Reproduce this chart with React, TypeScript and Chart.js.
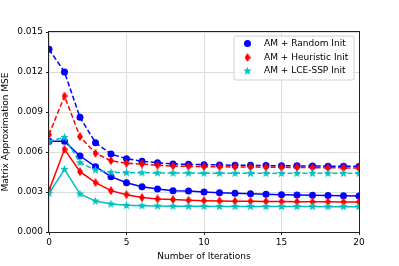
import React, { useEffect, useRef } from "react";
import { Chart, registerables } from "chart.js";

Chart.register(...registerables);

const iterations = Array.from({ length: 21 }, (_, i) => i);

const randomDashed = [0.0137, 0.0120, 0.0086, 0.0067, 0.00585, 0.0055, 0.0053, 0.0052, 0.0051, 0.00508, 0.00505, 0.00503, 0.00501, 0.005, 0.00498, 0.00497, 0.00496, 0.00495, 0.00494, 0.00493, 0.00492];
const randomSolid = [0.0068, 0.0068, 0.0057, 0.0049, 0.00415, 0.0037, 0.0034, 0.00322, 0.0031, 0.00307, 0.0030, 0.00295, 0.0029, 0.00287, 0.00284, 0.0028, 0.00278, 0.00276, 0.00274, 0.00272, 0.0027];
const heurDashed = [0.0073, 0.0102, 0.00715, 0.0059, 0.00535, 0.00515, 0.0051, 0.005, 0.00495, 0.00492, 0.0049, 0.00489, 0.00488, 0.00487, 0.00486, 0.00485, 0.00484, 0.00483, 0.00482, 0.00481, 0.0048];
const heurSolid = [0.0031, 0.0062, 0.00452, 0.0037, 0.0031, 0.0028, 0.00258, 0.00248, 0.00243, 0.00238, 0.00235, 0.00233, 0.00231, 0.0023, 0.00229, 0.00228, 0.00227, 0.00226, 0.00226, 0.00225, 0.00225];
const lceDashed = [0.0068, 0.0071, 0.0052, 0.00465, 0.00448, 0.00445, 0.00444, 0.00443, 0.00442, 0.00442, 0.00441, 0.00441, 0.0044, 0.0044, 0.0044, 0.0044, 0.0044, 0.0044, 0.0044, 0.0044, 0.0044];
const lceSolid = [0.0029, 0.0047, 0.00285, 0.00232, 0.0021, 0.002, 0.00197, 0.00195, 0.00194, 0.00193, 0.00193, 0.00192, 0.00192, 0.00192, 0.00191, 0.00191, 0.00191, 0.00191, 0.0019, 0.0019, 0.0019];

const legendLabels = ["AM + Random Init", "AM + Heuristic Init", "AM + LCE-SSP Init"];
const yTicks = [0, 0.003, 0.006, 0.009, 0.012, 0.015];

const BLUE = "#0000ff";
const RED = "#ff0000";
const CYAN = "#00bfbf";
const FONT = "'DejaVu Sans', sans-serif";

function makeStar(color: string, size: number) {
  const c = document.createElement("canvas");
  c.width = size;
  c.height = size;
  const ctx = c.getContext("2d")!;
  const cx = size / 2, cy = size / 2;
  const R = size / 2, r = R * 0.42;
  ctx.beginPath();
  for (let i = 0; i < 10; i++) {
    const rad = i % 2 === 0 ? R : r;
    const a = -Math.PI / 2 + (i * Math.PI) / 5;
    const x = cx + rad * Math.cos(a), y = cy + rad * Math.sin(a);
    if (i === 0) ctx.moveTo(x, y); else ctx.lineTo(x, y);
  }
  ctx.closePath();
  ctx.fillStyle = color;
  ctx.fill();
  return c;
}

function makeDiamond(color: string, w: number, h: number) {
  const c = document.createElement("canvas");
  c.width = w;
  c.height = h;
  const ctx = c.getContext("2d")!;
  ctx.beginPath();
  ctx.moveTo(w / 2, 0);
  ctx.lineTo(w, h / 2);
  ctx.lineTo(w / 2, h);
  ctx.lineTo(0, h / 2);
  ctx.closePath();
  ctx.fillStyle = color;
  ctx.fill();
  return c;
}

export default function App() {
  const ref = useRef<HTMLCanvasElement>(null);
  useEffect(() => {
    const star = makeStar(CYAN, 9);
    const diamond = makeDiamond(RED, 6, 9);
    const toPts = (arr: number[]) => arr.map((v, i) => ({ x: iterations[i], y: v }));
    const ds = (data: number[], color: string, dashed: boolean, style: any, order: number, radius = 3.5) => ({
      data: toPts(data),
      borderColor: color,
      backgroundColor: color,
      borderWidth: 1.5,
      borderDash: dashed ? [5, 2.5] : [],
      pointStyle: style,
      pointRadius: radius,
      pointBorderWidth: 0,
      pointBackgroundColor: color,
      pointBorderColor: color,
      tension: 0,
      order,
    });

    const framePlugin = {
      id: "frame",
      afterDraw(chart: any) {
        const { ctx, chartArea: a } = chart;
        ctx.save();
        ctx.strokeStyle = "#222";
        ctx.lineWidth = 1;
        ctx.strokeRect(Math.round(a.left) - 0.5, Math.round(a.top) - 0.5, Math.round(a.right - a.left) + 1, Math.round(a.bottom - a.top) + 1);
        // legend
        const bx = 234, by = 36, bw = 120, bh = 44, r = 2;
        ctx.beginPath();
        ctx.moveTo(bx + r, by);
        ctx.lineTo(bx + bw - r, by);
        ctx.quadraticCurveTo(bx + bw, by, bx + bw, by + r);
        ctx.lineTo(bx + bw, by + bh - r);
        ctx.quadraticCurveTo(bx + bw, by + bh, bx + bw - r, by + bh);
        ctx.lineTo(bx + r, by + bh);
        ctx.quadraticCurveTo(bx, by + bh, bx, by + bh - r);
        ctx.lineTo(bx, by + r);
        ctx.quadraticCurveTo(bx, by, bx + r, by);
        ctx.closePath();
        ctx.fillStyle = "rgba(255,255,255,0.85)";
        ctx.fill();
        ctx.strokeStyle = "#d0d0d0";
        ctx.stroke();
        const rows = [43.5, 57.5, 71];
        const mx = 247.5;
        ctx.fillStyle = BLUE;
        ctx.beginPath();
        ctx.arc(mx, rows[0], 3.5, 0, Math.PI * 2);
        ctx.fill();
        ctx.drawImage(diamond, mx - 3, rows[1] - 4.5);
        ctx.drawImage(star, mx - 4.5, rows[2] - 4.5);
        ctx.fillStyle = "#000";
        ctx.font = `9px ${FONT}`;
        ctx.textBaseline = "middle";
        ctx.textAlign = "left";
        legendLabels.forEach((t, i) => ctx.fillText(t, 264, rows[i]));
        ctx.restore();
      },
    };

    const chart = new Chart(ref.current!, {
      type: "line",
      data: {
        datasets: [
          ds(randomDashed, BLUE, true, "circle", 6),
          ds(randomSolid, BLUE, false, "circle", 5),
          ds(heurDashed, RED, true, diamond, 4),
          ds(heurSolid, RED, false, diamond, 3),
          ds(lceDashed, CYAN, true, star, 2),
          ds(lceSolid, CYAN, false, star, 1),
        ] as any,
      },
      options: {
        animation: false,
        responsive: false,
        maintainAspectRatio: false,
        layout: { padding: { left: 0, top: 32, right: 40, bottom: 0 } },
        plugins: { legend: { display: false }, tooltip: { enabled: false } },
        scales: {
          x: {
            type: "linear",
            min: 0,
            max: 20,
            afterFit: (s: any) => { s.height = 34; },
            ticks: { stepSize: 5, color: "#000", font: { family: FONT, size: 9 }, padding: 2, maxRotation: 0 },
            grid: { color: "#dcdcdc", tickColor: "#222", tickLength: 3, lineWidth: 1 },
            border: { display: false },
            title: { display: true, text: "Number of Iterations", color: "#000", font: { family: FONT, size: 9 }, padding: { top: 0, bottom: 4 } },
          },
          y: {
            type: "linear",
            min: 0,
            max: 0.015,
            afterFit: (s: any) => { s.width = 49; },
            afterBuildTicks: (s: any) => { s.ticks = yTicks.map((v) => ({ value: v })); },
            ticks: { color: "#000", font: { family: FONT, size: 9 }, padding: 3, autoSkip: false, callback: (v: any) => Number(v).toFixed(3) },
            grid: { color: "#dcdcdc", tickColor: "#222", tickLength: 3, lineWidth: 1 },
            border: { display: false },
            title: { display: true, text: "Matrix Approximation MSE", color: "#000", font: { family: FONT, size: 9 }, padding: { top: 0, bottom: 0 } },
          },
        },
      },
      plugins: [framePlugin],
    });
    return () => chart.destroy();
  }, []);
  return (
    <div style={{ position: "fixed", left: 0, top: 0, width: 399, height: 266, background: "#fff" }}>
      <canvas ref={ref} width={399} height={266} style={{ width: 399, height: 266, display: "block" }} />
    </div>
  );
}
